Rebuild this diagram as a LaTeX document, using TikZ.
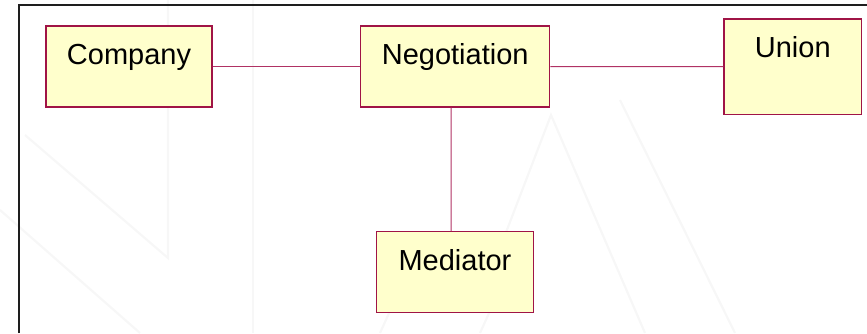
\documentclass[tikz,border=0pt]{standalone}
\usepackage{fontspec}
\setmainfont{Liberation Sans}
\usetikzlibrary{calc}
\definecolor{classedge}{RGB}{160,20,70}
\definecolor{classfill}{RGB}{255,255,204}
\definecolor{linkcol}{RGB}{176,50,100}
\definecolor{framecol}{RGB}{30,30,30}
\definecolor{watermark}{RGB}{247,247,247}
\tikzset{
  classbox/.style={draw=classedge, fill=classfill, line width=1.2pt, rectangle,
    inner xsep=0pt, inner ysep=0pt, text height=38.5pt,
    font=\fontsize{29}{34}\selectfont, anchor=center},
  assoc/.style={draw=linkcol, line width=1pt},
  faint/.style={draw=watermark, line width=2.2pt}
}
\begin{document}
\begin{tikzpicture}[x=1pt,y=-1pt]
\useasboundingbox (0,0) rectangle (867,333);
% faint background artwork
\draw[faint] (25,135) -- (168,258) -- (168,0);
\draw[faint] (0,210) -- (140,333);
\draw[faint] (253,0) -- (253,333);
\draw[faint] (505,235) -- (551,115) -- (645,333);
\draw[faint] (620,100) -- (735,333);
\draw[faint] (380,333) -- (395,300);
\draw[faint] (480,333) -- (495,300);
% frame
\draw[framecol, line width=2pt] (19,333) -- (19,5) -- (867,5);
% classes
\node[classbox, minimum width=166pt, minimum height=81pt, text depth=42.5pt] (company) at (129,66.5) {Company};
\node[classbox, minimum width=189pt, minimum height=81pt, text depth=42.5pt] (negotiation) at (455.2,66.5) {Negotiation};
\node[classbox, minimum width=137.7pt, minimum height=95.3pt, text depth=56.8pt] (union) at (792.8,66.7) {Union};
\node[classbox, minimum width=156.6pt, minimum height=80.6pt, text depth=42.1pt] (mediator) at (455,272) {Mediator};
% associations
\draw[assoc] (company.east) -- (negotiation.west);
\draw[assoc] (negotiation.east) -- (union.west);
\draw[assoc] ($(negotiation.south)+(-4,0)$) -- ($(mediator.north)+(-4,0)$);
\end{tikzpicture}
\end{document}
